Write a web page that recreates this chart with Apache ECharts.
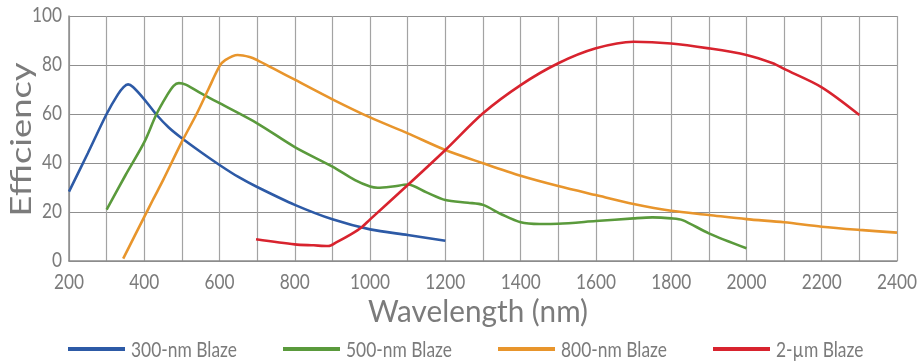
<!DOCTYPE html>
<html>
<head>
<meta charset="utf-8">
<script src="https://cdn.jsdelivr.net/npm/echarts@6/dist/echarts.min.js"></script>
<style>html,body{margin:0;padding:0;background:#fff;}#c{width:919px;height:364px;}</style>
</head>
<body>
<div id="c"></div>
<script>
// Series names
const seriesNames = ['300-nm Blaze', '500-nm Blaze', '800-nm Blaze', '2-\u00b5m Blaze'];

// 300-nm Blaze
const waveBlue = [200, 250, 300, 330, 345, 357, 370, 400, 432, 465, 500, 550, 600, 650, 700, 800, 900, 1000, 1100, 1200];
const effBlue  = [28.3, 44, 60, 68, 71, 72.1, 71, 66, 59.8, 54.5, 50.1, 44.5, 39.2, 34.3, 30.2, 22.9, 17, 12.9, 10.6, 8.3];

// 500-nm Blaze
const waveGreen = [300, 350, 400, 432, 460, 478, 492, 510, 550, 600, 700, 800, 900, 960, 1000, 1020, 1060, 1100, 1150, 1200, 1260, 1300, 1350, 1400, 1450, 1500, 1600, 1700, 1750, 1800, 1830, 1900, 2000];
const effGreen  = [21, 35, 48.5, 59.8, 67.5, 71.5, 72.6, 72, 68.5, 64.4, 56.2, 46.5, 38.5, 33, 30.4, 29.9, 30.4, 31.2, 28, 24.9, 23.8, 22.9, 19, 15.8, 15.1, 15.2, 16.3, 17.4, 17.8, 17.4, 16.7, 11.3, 5.2];

// 800-nm Blaze
const waveOrange = [344, 400, 423, 450, 500, 539, 570, 600, 615, 648, 680, 700, 750, 800, 900, 1000, 1100, 1200, 1300, 1400, 1500, 1600, 1700, 1800, 1900, 2000, 2100, 2200, 2300, 2400];
const effOrange  = [1, 18, 25, 33, 48.7, 60, 70, 79.5, 82, 84.1, 83.3, 82, 78, 74, 66, 58.6, 52.1, 45.3, 39.9, 34.8, 30.6, 26.9, 23.3, 20.5, 18.8, 17.1, 15.8, 14, 12.7, 11.6];

// 2-um Blaze
const waveRed = [697, 800, 850, 889, 910, 950, 977, 1000, 1100, 1200, 1300, 1400, 1500, 1600, 1700, 1800, 1900, 2000, 2070, 2100, 2200, 2300];
const effRed  = [8.9, 6.8, 6.4, 6.1, 7.6, 11, 13.7, 17, 31, 45.3, 60.3, 71.8, 80.7, 86.8, 89.5, 88.8, 86.8, 84.1, 80.7, 78.4, 70.9, 59.6];

// Axis ticks and titles
const xTicks = [200, 400, 600, 800, 1000, 1200, 1400, 1600, 1800, 2000, 2200, 2400];
const yTicks = [0, 20, 40, 60, 80, 100];
const xTitle = 'Wavelength (nm)';
const yTitle = 'Efficiency';

const colors = ['#2d5aa6', '#5a9a3c', '#e8952c', '#d8232e'];
const zip = (xs, ys) => xs.map((x, i) => [x, ys[i]]);
const allData = [zip(waveBlue, effBlue), zip(waveGreen, effGreen), zip(waveOrange, effOrange), zip(waveRed, effRed)];

const FONT = 'Lato';
const txt = '#7b7b7b';

// text width measurement to mimic the condensed/wide lettering of the original
const mctx = document.createElement('canvas').getContext('2d');
function textW(t, size) { mctx.font = size + 'px ' + FONT; return mctx.measureText(t).width; }

const tickSize = 22;
const tickScale = 30 / textW('200', tickSize);
const xTitleSize = 31;
const xTitleScale = 220 / textW(xTitle, xTitleSize);
const yTitleSize = 28;
const yTitleScale = 154 / textW(yTitle, yTitleSize);
const legSize = 22;
const legScale = 106 / textW(seriesNames[0], legSize);

const legLeft = 68, legStep = 215, legIconW = 57;

const chart = echarts.init(document.getElementById('c'), null, {renderer: 'canvas'});
chart.setOption({
  animation: false,
  backgroundColor: '#ffffff',
  color: colors,
  grid: {left: 69, right: 22, top: 16, bottom: 103, containLabel: false, outerBoundsMode: 'none'},
  legend: seriesNames.map((n, i) => ({
    top: 347,
    left: legLeft + i * legStep,
    padding: 0,
    icon: 'rect',
    itemWidth: legIconW,
    itemHeight: 4,
    formatter: () => '',
    textStyle: {fontSize: 4},
    data: [n]
  })),
  xAxis: {
    type: 'value',
    min: 200, max: 2400, interval: 100,
    axisLine: {show: true, lineStyle: {color: '#8c8c8c', width: 1.5}},
    axisTick: {show: false},
    axisLabel: {show: false},
    splitLine: {show: true, lineStyle: {color: '#a3a3a3', width: 1.2}}
  },
  yAxis: {
    type: 'value',
    min: 0, max: 100, interval: 20,
    axisLine: {show: true, lineStyle: {color: '#8c8c8c', width: 1.5}},
    axisTick: {show: false},
    axisLabel: {show: false},
    splitLine: {show: true, lineStyle: {color: '#8f8f8f', width: 1.2}}
  },
  series: seriesNames.map((n, i) => ({
    name: n,
    type: 'line',
    data: allData[i],
    smooth: 0.3,
    showSymbol: false,
    symbol: 'none',
    lineStyle: {width: 2.6, color: colors[i]},
    itemStyle: {color: colors[i]},
    z: 3 + i
  }))
});

// Text labels placed through the chart's own scales
const px = (x, y) => chart.convertToPixel({gridIndex: 0}, [x, y]);
const graphics = [];
const y0 = px(200, 0)[1];
xTicks.forEach(v => {
  const p = px(v, 0);
  graphics.push({type: 'text', x: p[0], y: y0 + 21, scaleX: tickScale, silent: true,
    style: {text: String(v), fontSize: tickSize, fontFamily: FONT, fill: txt, align: 'center', verticalAlign: 'middle'}});
});
const x0 = px(200, 0)[0];
yTicks.forEach(v => {
  const p = px(200, v);
  graphics.push({type: 'text', x: x0 - 7, y: p[1] - 1, scaleX: tickScale, silent: true,
    style: {text: String(v), fontSize: tickSize, fontFamily: FONT, fill: txt, align: 'right', verticalAlign: 'middle'}});
});
const midX = (px(200, 0)[0] + px(2400, 0)[0]) / 2 - 5;
graphics.push({type: 'text', x: midX, y: y0 + 51, scaleX: xTitleScale, silent: true,
  style: {text: xTitle, fontSize: xTitleSize, fontFamily: FONT, fill: txt, align: 'center', verticalAlign: 'middle'}});
const midY = (px(200, 0)[1] + px(200, 100)[1]) / 2 + 1;
graphics.push({type: 'text', x: 22, y: midY, rotation: Math.PI / 2, scaleX: yTitleScale, silent: true,
  style: {text: yTitle, fontSize: yTitleSize, fontFamily: FONT, fill: txt, align: 'center', verticalAlign: 'middle'}});
seriesNames.forEach((n, i) => {
  graphics.push({type: 'text', x: legLeft + i * legStep + legIconW + 6, y: 350, scaleX: legScale, silent: true,
    style: {text: n, fontSize: legSize, fontFamily: FONT, fill: txt, align: 'left', verticalAlign: 'middle'}});
});
chart.setOption({graphic: graphics});
</script>
</body>
</html>
